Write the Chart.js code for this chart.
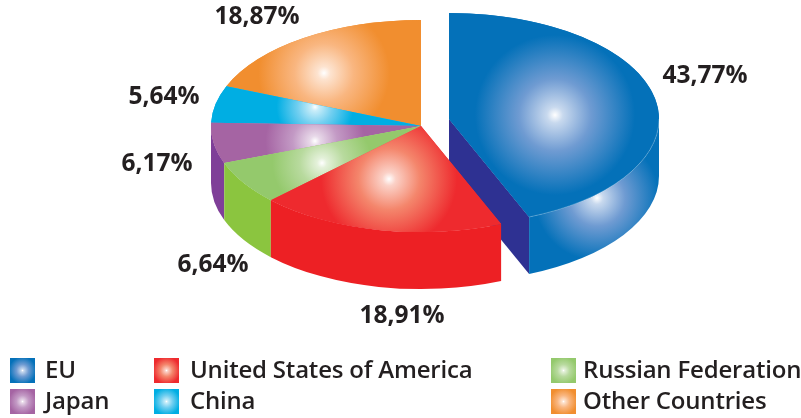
<!DOCTYPE html>
<html>
<head>
<meta charset="utf-8">
<style>html,body{margin:0;padding:0;background:#fff}canvas{display:block}</style>
<script src="https://cdn.jsdelivr.net/npm/chart.js@4"></script>
</head>
<body>
<canvas id="c" width="801" height="418"></canvas>
<script>
const categories = ['EU','United States of America','Russian Federation','Japan','China','Other Countries'];
const shares = [43.77,18.91,6.64,6.17,5.64,18.87];
const topColors = ['#0471b9','#ee2a2e','#94c96c','#a564a3','#00aee3','#f18e2f'];
const midColors = ['#6f9bd2','#f4866c','#b8da9e','#c39ac5','#72cff0','#f9b680'];
const sideColors = ['#0471b9','#ed2024','#8bc53f','#7f3f98','#00aee3','#f18e2f'];

// styling of the drawing
const SQUASH = 0.505, DEPTH = 57;
const explode = [{x:28,y:-7},null,null,null,null,null];
const glowOffset = [[106,-4],[-32,53],[-99,37],[-106,15],[-106,-19],[-97,-53]];
const glowRadius = [100,85,62,62,48,82];
const labelSpots = [[705,76],[402,316],[213,265],[157,164],[164,97],[257,17]];
const legendCols = [[10,45],[154,190],[551,583]];
const legendRows = [[358,378],[389,409]];
const LABEL_FONT = '700 24.5px "Open Sans"';
const LEGEND_FONT = '600 24px "Open Sans"';
const INK = '#231f20';

function mix(a,b,t){
  const p = h=>{const n=parseInt(h.slice(1),16);return [n>>16,(n>>8)&255,n&255];};
  const A=p(a),B=p(b);
  return 'rgb('+A.map((v,k)=>Math.round(v+(B[k]-v)*t)).join(',')+')';
}
function glow(ctx,x,y,r,i){
  const g = ctx.createRadialGradient(x,y,0,x,y,r);
  g.addColorStop(0,'#ffffff');
  g.addColorStop(0.08,mix('#ffffff',midColors[i],0.38));
  g.addColorStop(0.36,midColors[i]);
  g.addColorStop(0.8,topColors[i]);
  g.addColorStop(1,topColors[i]);
  return g;
}
function pose(arc,i){
  const e = explode[i] || {x:0,y:0};
  return {cx:arc.x+e.x, cy:arc.y+e.y, r:arc.outerRadius, ry:arc.outerRadius*SQUASH};
}
function drawWall(ctx,arc,i){
  const {cx,cy,r,ry} = pose(arc,i);
  const a = Math.max(arc.startAngle,0), b = Math.min(arc.endAngle,Math.PI);
  if (b > a){
    ctx.beginPath();
    ctx.ellipse(cx,cy,r,ry,0,a,b);
    ctx.ellipse(cx,cy+DEPTH,r,ry,0,b,a,true);
    ctx.closePath();
    if (i===0){
      ctx.fillStyle = glow(ctx,cx+148,cy+79,78,i);
    } else ctx.fillStyle = sideColors[i];
    ctx.fill();
  }
}
function drawCut(ctx,arc,i){
  const {cx,cy,r,ry} = pose(arc,i);
  const px = cx+Math.cos(arc.endAngle)*r, py = cy+Math.sin(arc.endAngle)*ry;
  ctx.beginPath();
  ctx.moveTo(cx,cy);ctx.lineTo(px,py);ctx.lineTo(px,py+DEPTH);ctx.lineTo(cx,cy+DEPTH);
  ctx.closePath();
  ctx.fillStyle = '#2e3192';
  ctx.fill();
}
function drawTop(ctx,arc,i){
  const {cx,cy,r,ry} = pose(arc,i);
  ctx.save();
  ctx.translate(cx,cy);ctx.scale(1,SQUASH);ctx.translate(-arc.x,-arc.y);
  arc.draw(ctx);
  ctx.restore();
  ctx.beginPath();
  ctx.moveTo(cx,cy);
  ctx.ellipse(cx,cy,r,ry,0,arc.startAngle,arc.endAngle);
  ctx.closePath();
  ctx.fillStyle = glow(ctx,cx+glowOffset[i][0],cy+glowOffset[i][1],glowRadius[i],i);
  ctx.fill();
}
function drawRim(ctx,arc,i){
  const {cx,cy,r,ry} = pose(arc,i);
  ctx.beginPath();
  ctx.ellipse(cx,cy,r,ry,0,0,arc.endAngle);
  ctx.strokeStyle = 'rgba(255,255,255,0.3)';
  ctx.lineWidth = 0.8;
  ctx.stroke();
}
const pie3d = {
  id:'pie3d',
  beforeDatasetsDraw(chart){
    const ctx = chart.ctx, arcs = chart.getDatasetMeta(0).data;
    ctx.save();
    drawCut(ctx,arcs[0],0);
    drawWall(ctx,arcs[0],0);
    drawTop(ctx,arcs[0],0);
    drawRim(ctx,arcs[0],0);
    [3,2,1].forEach(i=>drawWall(ctx,arcs[i],i));
    [5,4,3,2,1].forEach(i=>drawTop(ctx,arcs[i],i));
    ctx.restore();
    return false;
  },
  afterDraw(chart){
    const ctx = chart.ctx;
    ctx.save();
    ctx.fillStyle = INK;
    ctx.font = LABEL_FONT;
    ctx.textAlign = 'center';
    ctx.textBaseline = 'middle';
    shares.forEach((v,i)=>{
      ctx.fillText(v.toFixed(2).replace('.',',')+'%',labelSpots[i][0],labelSpots[i][1]);
    });
    ctx.textAlign = 'left';
    ctx.textBaseline = 'alphabetic';
    ctx.font = LEGEND_FONT;
    ctx.letterSpacing = '-0.2px';
    categories.forEach((name,i)=>{
      const col = legendCols[i%3], row = legendRows[Math.floor(i/3)];
      ctx.fillStyle = glow(ctx,col[0]+12.5,row[0]+12.5,17,i);
      ctx.fillRect(col[0],row[0],25,25);
      ctx.fillStyle = INK;
      ctx.fillText(name,col[1],row[1]);
    });
    ctx.restore();
  }
};
new Chart(document.getElementById('c'),{
  type:'pie',
  data:{labels:categories,datasets:[{data:shares,backgroundColor:topColors,borderWidth:0}]},
  options:{
    responsive:false,animation:false,radius:210,
    layout:{padding:{left:41,right:0,top:0,bottom:166}},
    plugins:{legend:{display:false},tooltip:{enabled:false}}
  },
  plugins:[pie3d]
});
</script>
</body>
</html>
